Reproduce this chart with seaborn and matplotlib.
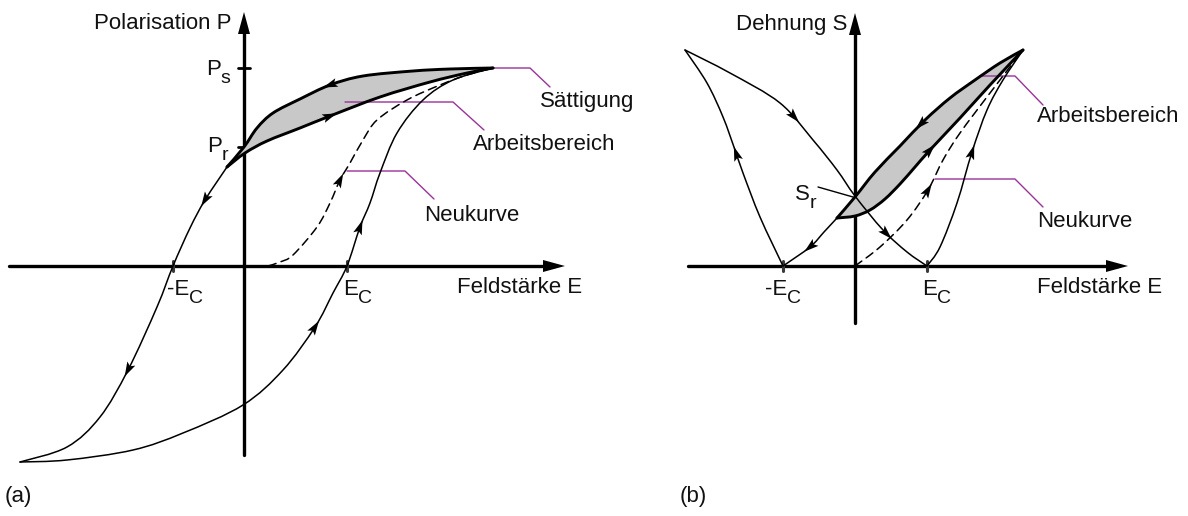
import numpy as np
import matplotlib
matplotlib.use("Agg")
import matplotlib.pyplot as plt
import seaborn as sns
from matplotlib.path import Path
from matplotlib.patches import PathPatch, Polygon

sns.set_theme(style="white")
plt.rcParams["font.family"] = ["Liberation Sans", "DejaVu Sans"]

# ---------------- (a) Polarisation P over field E ----------------
a_Ec_neg, a_Ec_pos = -0.71, 1.03
a_Ps, a_Pr = 1.98, 1.19

# upper branch of the working loop (saturation -> meeting point)
a_work_upper_E = [2.49, 2.06, 1.69, 1.19, 0.86, 0.56, 0.29, 0.13, 0.00, -0.17]
a_work_upper_P = [1.98, 1.97, 1.95, 1.90, 1.81, 1.67, 1.53, 1.38, 1.19, 0.99]
# lower branch of the working loop (meeting point -> saturation)
a_work_lower_E = [-0.17, 0.01, 0.23, 0.56, 0.86, 1.36, 1.86, 2.23, 2.49]
a_work_lower_P = [0.99, 1.13, 1.25, 1.38, 1.50, 1.69, 1.84, 1.93, 1.98]
# descending branch of the major loop
a_down_E = [-0.17, -0.39, -0.54, -0.71, -0.87, -1.16, -1.44, -1.77, -2.24]
a_down_P = [0.99, 0.66, 0.38, 0.00, -0.41, -1.04, -1.51, -1.81, -1.96]
# ascending branch of the major loop
a_up_E = [-2.24, -1.77, -1.11, -0.61, -0.01, 0.39, 0.71, 0.89, 1.03,
          1.16, 1.26, 1.36, 1.53, 1.79, 2.09, 2.49]
a_up_P = [-1.96, -1.94, -1.84, -1.67, -1.39, -1.04, -0.61, -0.27, 0.00,
          0.39, 0.63, 0.93, 1.33, 1.66, 1.86, 1.98]
# virgin curve (Neukurve)
a_virgin_E = [0.24, 0.36, 0.49, 0.73, 0.86, 0.96, 1.06, 1.19, 1.33, 1.63, 1.96, 2.23, 2.49]
a_virgin_P = [0.00, 0.04, 0.11, 0.39, 0.63, 0.86, 1.03, 1.26, 1.46, 1.66, 1.81, 1.91, 1.98]

# ---------------- (b) Strain S over field E (butterfly) ----------------
b_Ec_neg, b_Ec_pos = -0.72, 0.72

b_outer_E = [-1.70, -1.25, -0.75, -0.42, -0.18, 0.00, 0.28, 0.52, 0.72]
b_outer_S = [2.16, 1.93, 1.63, 1.26, 0.96, 0.70, 0.36, 0.14, 0.00]
b_inner_E = [-0.72, -0.95, -1.12, -1.20, -1.32, -1.48, -1.70]
b_inner_S = [0.00, 0.49, 0.93, 1.16, 1.49, 1.83, 2.16]
b_right_E = [0.72, 0.85, 1.02, 1.17, 1.32, 1.48, 1.68]
b_right_S = [0.00, 0.19, 0.63, 1.14, 1.56, 1.86, 2.16]
b_back_E = [-0.18, -0.31, -0.45, -0.72]
b_back_S = [0.48, 0.34, 0.19, 0.00]
b_work_upper_E = [1.68, 1.45, 1.20, 0.95, 0.70, 0.45, 0.20, 0.00, -0.18]
b_work_upper_S = [2.16, 2.03, 1.86, 1.68, 1.46, 1.20, 0.94, 0.69, 0.48]
b_work_lower_E = [-0.18, 0.00, 0.15, 0.30, 0.45, 0.60, 0.75, 1.05, 1.35, 1.68]
b_work_lower_S = [0.48, 0.50, 0.56, 0.67, 0.82, 0.99, 1.16, 1.48, 1.81, 2.16]
b_virgin_E = [0.00, 0.25, 0.52, 0.73, 0.88, 1.05, 1.35, 1.68]
b_virgin_S = [0.00, 0.19, 0.46, 0.76, 1.06, 1.33, 1.73, 2.16]

INK = "black"
LEADER = "#993399"
FILL = "#c8c8c8"
FS = 16
FS_SUB = 14


def smooth_path(xs, ys):
    """Cubic Bezier path running through every given point."""
    p = np.column_stack([xs, ys]).astype(float)
    n = len(p)
    verts, codes = [p[0]], [Path.MOVETO]
    for i in range(n - 1):
        p0, p1 = p[max(i - 1, 0)], p[i]
        p2, p3 = p[i + 1], p[min(i + 2, n - 1)]
        verts += [p1 + (p2 - p0) / 6.0, p2 - (p3 - p1) / 6.0, p2]
        codes += [Path.CURVE4] * 3
    return np.array(verts), codes


def bezier_samples(verts, k=30):
    out = [verts[0]]
    t = np.linspace(0, 1, k)[1:, None]
    for i in range(1, len(verts), 3):
        a, b, c, d = verts[i - 1], verts[i], verts[i + 1], verts[i + 2]
        out.extend((1 - t) ** 3 * a + 3 * (1 - t) ** 2 * t * b
                   + 3 * (1 - t) * t ** 2 * c + t ** 3 * d)
    return np.array(out)


def arrow_head(ax, pos, d, length=0.145, half=0.045, notch=0.03, z=6):
    d = np.asarray(d, float)
    d = d / np.hypot(*d)
    nrm = np.array([-d[1], d[0]])
    pos = np.asarray(pos, float)
    tip = pos + d * length / 2
    base = pos - d * length / 2
    ax.add_patch(Polygon([tip, base + nrm * half, base + d * notch,
                          base - nrm * half],
                         closed=True, color=INK, lw=0, zorder=z))


def curve(ax, xs, ys, lw=1.1, ls="-", arrows=(), z=4):
    verts, codes = smooth_path(xs, ys)
    ax.add_patch(PathPatch(Path(verts, codes), fill=False, ec=INK, lw=lw,
                           ls=ls, capstyle="round", joinstyle="round", zorder=z))
    pts = bezier_samples(verts)
    for ap in arrows:
        j = int(np.argmin(np.hypot(pts[:, 0] - ap[0], pts[:, 1] - ap[1])))
        j = min(max(j, 1), len(pts) - 2)
        arrow_head(ax, pts[j], pts[j + 1] - pts[j - 1])
    return verts, codes


def work_region(ax, ue, us, le, ls_, arrows_u, arrows_l):
    vu, cu = smooth_path(ue, us)
    vl, cl = smooth_path(le, ls_)
    verts = np.vstack([vu, vl[1:], vu[:1]])
    codes = cu + cl[1:] + [Path.CLOSEPOLY]
    ax.add_patch(PathPatch(Path(verts, codes), fc=FILL, ec="none", zorder=2))
    curve(ax, ue, us, lw=2.1, arrows=arrows_u, z=5)
    curve(ax, le, ls_, lw=2.1, arrows=arrows_l, z=5)


def axes_cross(ax, x0, x1, y0, y1):
    sns.lineplot(x=[x0, x1 - 0.1], y=[0, 0], ax=ax, color=INK, lw=2.4,
                 sort=False, estimator=None)
    sns.lineplot(x=[0, 0], y=[y0, y1 - 0.1], ax=ax, color=INK, lw=2.4,
                 sort=False, estimator=None)
    arrow_head(ax, (x1 - 0.11, 0), (1, 0), length=0.22, half=0.06, notch=0, z=7)
    arrow_head(ax, (0, y1 - 0.11), (0, 1), length=0.22, half=0.06, notch=0, z=7)


def tick_e(ax, e):
    sns.lineplot(x=[e, e], y=[-0.05, 0.05], ax=ax, color="#3a3a3a", lw=2.2,
                 sort=False, estimator=None)


def tick_p(ax, p):
    sns.lineplot(x=[-0.06, 0.06], y=[p, p], ax=ax, color=INK, lw=2.0,
                 sort=False, estimator=None)


def leader(ax, xs, ys, color=LEADER, lw=1.0):
    sns.lineplot(x=xs, y=ys, ax=ax, color=color, lw=lw, sort=False,
                 estimator=None)


TXT = dict(fontsize=FS, color="#111111")


def sub_label(ax, x, y, main, sub, dx=0.0):
    """Label with a large, lowered subscript (e.g. E with index C)."""
    t = ax.text(x, y, main, ha="left", va="baseline", **TXT)
    ax.annotate(sub, xy=(1, 0), xycoords=t, xytext=(dx, -2.0),
                textcoords="offset points", ha="left", va="baseline",
                fontsize=FS_SUB, color="#111111")


fig = plt.figure(figsize=(11.88, 5.16), dpi=100)
ax_a = fig.add_axes([0.0, 0.0, 0.5, 1.0])
ax_b = fig.add_axes([0.5, 0.0, 0.5, 1.0])
ax_a.set_xlim(-2.44, 3.50)
ax_a.set_ylim(-2.50, 2.66)
ax_b.set_xlim(-2.61, 3.33)
ax_b.set_ylim(-2.50, 2.66)
for ax in (ax_a, ax_b):
    ax.set_axis_off()

# ----- panel (a) -----
axes_cross(ax_a, -2.35, 3.21, -1.89, 2.54)
tick_e(ax_a, a_Ec_neg)
tick_e(ax_a, a_Ec_pos)
tick_p(ax_a, a_Ps)
tick_p(ax_a, a_Pr)

work_region(ax_a, a_work_upper_E, a_work_upper_P, a_work_lower_E, a_work_lower_P,
            arrows_u=[(0.86, 1.81)], arrows_l=[(0.86, 1.50)])
curve(ax_a, a_down_E, a_down_P, arrows=[(-0.39, 0.66), (-1.16, -1.04)])
curve(ax_a, a_up_E, a_up_P, arrows=[(0.71, -0.61), (1.16, 0.39)])
curve(ax_a, a_virgin_E, a_virgin_P, ls=(0, (5.5, 3.5)), arrows=[(0.96, 0.86)])

leader(ax_a, [a_work_upper_E[0], 2.86, 3.06], [a_Ps, a_Ps, 1.79])
leader(ax_a, [1.01, 2.09, 2.40], [1.64, 1.64, 1.36])
leader(ax_a, [1.03, 1.61, 1.90], [0.95, 0.95, 0.67])

ax_a.text(-0.13, 2.37, "Polarisation P", ha="right", va="baseline", **TXT)
sub_label(ax_a, -0.38, 1.91, "P", "s", dx=0.0)
sub_label(ax_a, -0.37, 1.14, "P", "r", dx=0.0)
sub_label(ax_a, -0.77, -0.29, "-E", "C")
sub_label(ax_a, 0.99, -0.29, "E", "C")
ax_a.text(2.13, -0.27, "Feldstärke E", ha="left", va="baseline", **TXT)
ax_a.text(2.96, 1.59, "Sättigung", ha="left", va="baseline", **TXT)
ax_a.text(2.29, 1.16, "Arbeitsbereich", ha="left", va="baseline", **TXT)
ax_a.text(1.80, 0.45, "Neukurve", ha="left", va="baseline", **TXT)
ax_a.text(-2.39, -2.36, "(a)", ha="left", va="baseline", **TXT)

# ----- panel (b) -----
axes_cross(ax_b, -1.67, 2.73, -0.57, 2.53)
tick_e(ax_b, b_Ec_neg)
tick_e(ax_b, b_Ec_pos)

work_region(ax_b, b_work_upper_E, b_work_upper_S, b_work_lower_E, b_work_lower_S,
            arrows_u=[(0.65, 1.42)], arrows_l=[(0.75, 1.16)])
curve(ax_b, b_outer_E, b_outer_S, arrows=[(-0.62, 1.49), (0.32, 0.33)])
curve(ax_b, b_inner_E, b_inner_S, arrows=[(-1.18, 1.13)])
curve(ax_b, b_right_E, b_right_S, arrows=[(1.17, 1.14)])
curve(ax_b, b_back_E, b_back_S, arrows=[(-0.45, 0.19)])
curve(ax_b, b_virgin_E, b_virgin_S, ls=(0, (5.5, 3.5)), arrows=[(0.73, 0.76)])

leader(ax_b, [-0.37, -0.02], [0.79, 0.69], color=INK, lw=1.0)
leader(ax_b, [1.25, 1.60, 1.88], [1.90, 1.90, 1.61])
leader(ax_b, [0.80, 1.60, 1.88], [0.87, 0.87, 0.59])

ax_b.text(-0.08, 2.36, "Dehnung S", ha="right", va="baseline", **TXT)
sub_label(ax_b, -0.60, 0.66, "S", "r", dx=0.0)
sub_label(ax_b, -0.90, -0.29, "-E", "C")
sub_label(ax_b, 0.67, -0.29, "E", "C")
ax_b.text(1.82, -0.27, "Feldstärke E", ha="left", va="baseline", **TXT)
ax_b.text(1.82, 1.44, "Arbeitsbereich", ha="left", va="baseline", **TXT)
ax_b.text(1.82, 0.39, "Neukurve", ha="left", va="baseline", **TXT)
ax_b.text(-1.75, -2.36, "(b)", ha="left", va="baseline", **TXT)

fig.savefig("out.png", dpi=100, facecolor="white")
